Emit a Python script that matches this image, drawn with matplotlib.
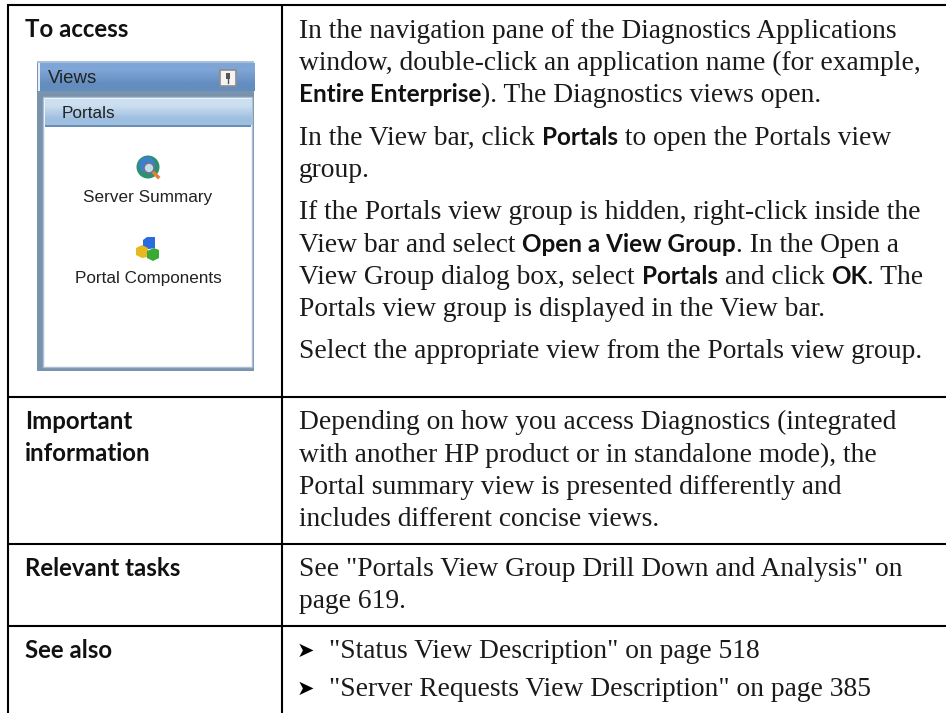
import matplotlib

matplotlib.use("Agg")
import matplotlib.pyplot as plt
import numpy as np
from matplotlib.patches import Circle, Polygon, Rectangle

# table content: each line is a list of (text, is_bold) runs
ROW_LABELS = [["To access"], ["Important", "information"], ["Relevant tasks"], ["See also"]]

ACCESS_LINES = [
    [("In the navigation pane of the Diagnostics Applications", False)],
    [("window, double-click an application name (for example,", False)],
    [("Entire Enterprise", True), ("). The Diagnostics views open.", False)],
    [("In the View bar, click ", False), ("Portals", True), (" to open the Portals view", False)],
    [("group.", False)],
    [("If the Portals view group is hidden, right-click inside the", False)],
    [("View bar and select ", False), ("Open a View Group", True), (". In the Open a", False)],
    [("View Group dialog box, select ", False), ("Portals", True), (" and click ", False), ("OK", True), (". The", False)],
    [("Portals view group is displayed in the View bar.", False)],
    [("Select the appropriate view from the Portals view group.", False)],
]
IMPORTANT_LINES = [
    [("Depending on how you access Diagnostics (integrated", False)],
    [("with another HP product or in standalone mode), the", False)],
    [("Portal summary view is presented differently and", False)],
    [("includes different concise views.", False)],
]
TASK_LINES = [
    [('See "Portals View Group Drill Down and Analysis" on', False)],
    [("page 619.", False)],
]
SEE_ALSO = ['"Status View Description" on page 518', '"Server Requests View Description" on page 385']

VIEW_TITLE = "Views"
VIEW_GROUP = "Portals"
VIEW_ITEMS = ["Server Summary", "Portal Components"]

# baselines in pixels
LABEL_BASELINES = [[37], [429, 461], [576], [658]]
ACCESS_BASELINES = [38, 70, 102, 145, 177, 219, 252, 284, 316, 358]
IMPORTANT_BASELINES = [429, 462, 494, 526]
TASK_BASELINES = [576, 608]
SEE_ALSO_BASELINES = [658, 696]

SERIF = "Liberation Serif"
SANS = "Lato"
BODY_SIZE = 19.8
LABEL_SIZE = 17.3
BOLD_SIZE = 17.5
FRAME = "#7a93ad"


def draw_runs(ax, renderer, x, y, runs):
    for text, bold in runs:
        if bold:
            item = ax.text(x, y, text, family=SANS, weight="bold", fontsize=BOLD_SIZE, va="baseline", color="#111111")
        else:
            item = ax.text(x, y, text, family=SERIF, fontsize=BODY_SIZE, va="baseline", color="#1a1a1a")
        x = item.get_window_extent(renderer).x1


def gradient(ax, x0, x1, y0, y1, top, bottom, zorder=2):
    colors = np.array([matplotlib.colors.to_rgb(top), matplotlib.colors.to_rgb(bottom)])
    ax.imshow(colors[:, None, :], extent=(x0, x1, y1, y0), aspect="auto", interpolation="bilinear", zorder=zorder)


def draw_views_panel(ax):
    ax.add_patch(Rectangle((37, 61), 217, 310, color=FRAME, lw=0, zorder=1))
    ax.add_patch(Rectangle((37, 61), 217, 2, color="#a9c0dc", lw=0, zorder=3))
    gradient(ax, 39, 254, 63, 91, "#7fa5d6", "#648dbf")
    ax.add_patch(Rectangle((38, 63), 1.5, 28, color="#e6eef7", lw=0, zorder=3))
    ax.text(48, 83, VIEW_TITLE, family="Liberation Sans", fontsize=13.4, color="#222222", zorder=4)

    # pin button
    ax.add_patch(Rectangle((220, 70), 16, 16, facecolor="#f4f4f4", edgecolor="#8c8c8c", lw=1.2, zorder=4))
    ax.add_patch(Rectangle((226, 73), 4, 6, color="#555555", lw=0, zorder=5))
    ax.plot([228, 228], [79, 83], color="#555555", lw=1, zorder=5)

    ax.add_patch(Rectangle((43, 97), 209, 270, facecolor="white", edgecolor="#a8bfd6", lw=1, zorder=3))
    gradient(ax, 45, 251, 99, 125, "#cbdff0", "#9fbfe0", zorder=4)
    ax.add_patch(Rectangle((45, 125), 206, 2, color="#6a8db5", lw=0, zorder=5))
    ax.text(62, 118, VIEW_GROUP, family="Liberation Sans", fontsize=12.4, color="#222222", zorder=6)

    # globe icon
    ax.add_patch(Circle((148, 167), 11.5, color="#2f8f6e", lw=0, zorder=4))
    ax.add_patch(Circle((147, 165), 8, color="#3f7fd0", lw=0, zorder=5))
    ax.add_patch(Circle((149, 168), 5, facecolor="#c4dcec", edgecolor="#667788", lw=1.2, zorder=6))
    ax.plot([154, 158], [173, 177], color="#e0803a", lw=2.5, zorder=6)

    # cubes icon
    ax.add_patch(Polygon([(143, 240), (147, 237), (155, 237), (155, 248), (143, 250)], color="#2a6be0", lw=0, zorder=4))
    ax.add_patch(Polygon([(136, 248), (142, 245), (148, 248), (148, 257), (142, 258), (136, 255)], color="#e8b820", lw=0, zorder=5))
    ax.add_patch(Polygon([(147, 251), (154, 248), (159, 250), (159, 258), (153, 261), (147, 258)], color="#3aaa35", lw=0, zorder=5))

    for label, y in zip(VIEW_ITEMS, [202, 283]):
        ax.text(148, y, label, family="Liberation Sans", fontsize=12.3, ha="center", color="#222222", zorder=5)


def main():
    fig = plt.figure(figsize=(9.46, 7.13), dpi=100)
    ax = fig.add_axes([0, 0, 1, 1])
    ax.set_xlim(0, 946)
    ax.set_ylim(713, 0)
    ax.axis("off")
    renderer = fig.canvas.get_renderer()

    # table rules
    for y in [5, 397, 544, 626]:
        ax.plot([7, 946], [y, y], color="black", lw=1.5, solid_capstyle="butt")
    for x in [7.5, 282]:
        ax.plot([x, x], [4, 713], color="black", lw=1.5, solid_capstyle="butt")

    for lines, baselines in zip(ROW_LABELS, LABEL_BASELINES):
        for line, y in zip(lines, baselines):
            ax.text(25, y, line, family=SANS, weight="bold", fontsize=LABEL_SIZE, color="#111111")

    for lines, baselines in [
        (ACCESS_LINES, ACCESS_BASELINES),
        (IMPORTANT_LINES, IMPORTANT_BASELINES),
        (TASK_LINES, TASK_BASELINES),
    ]:
        for runs, y in zip(lines, baselines):
            draw_runs(ax, renderer, 299, y, runs)

    for line, y in zip(SEE_ALSO, SEE_ALSO_BASELINES):
        ax.text(297, y - 1, "\u27a4", family="DejaVu Sans", fontsize=15, color="black")
        ax.text(329, y, line, family=SERIF, fontsize=BODY_SIZE, color="#1a1a1a")

    draw_views_panel(ax)

    ax.set_xlim(0, 946)
    ax.set_ylim(713, 0)
    fig.savefig("out.png", dpi=100)


if __name__ == "__main__":
    main()
